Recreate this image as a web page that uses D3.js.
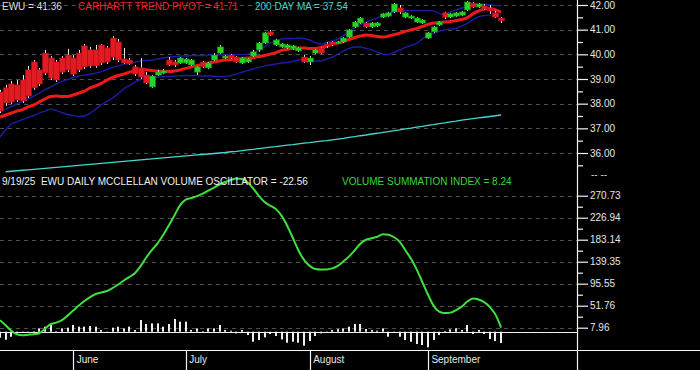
<!DOCTYPE html>
<html>
<head>
<meta charset="utf-8">
<script src="https://cdn.jsdelivr.net/npm/d3@7"></script>
<style>
  html, body { margin: 0; padding: 0; background: #000; }
  svg { display: block; }
  text { font-family: "Liberation Sans", Arial, sans-serif; white-space: pre; }
</style>
</head>
<body>
<svg id="chart" width="700" height="370"></svg>
<script>
// ---------------- DATA ----------------
const dates = [
  "2025-05-13","2025-05-14","2025-05-15","2025-05-16","2025-05-19","2025-05-20","2025-05-21","2025-05-22","2025-05-23","2025-05-27","2025-05-28","2025-05-29","2025-05-30",
  "2025-06-02","2025-06-03","2025-06-04","2025-06-05","2025-06-06","2025-06-09","2025-06-10","2025-06-11","2025-06-12","2025-06-13","2025-06-16","2025-06-17","2025-06-18","2025-06-20","2025-06-23","2025-06-24","2025-06-25","2025-06-26","2025-06-27","2025-06-30",
  "2025-07-01","2025-07-02","2025-07-03","2025-07-07","2025-07-08","2025-07-09","2025-07-10","2025-07-11","2025-07-14","2025-07-15","2025-07-16","2025-07-17","2025-07-18","2025-07-21","2025-07-22","2025-07-23","2025-07-24","2025-07-25","2025-07-28","2025-07-29","2025-07-30","2025-07-31",
  "2025-08-01","2025-08-04","2025-08-05","2025-08-06","2025-08-07","2025-08-08","2025-08-11","2025-08-12","2025-08-13","2025-08-14","2025-08-15","2025-08-18","2025-08-19","2025-08-20","2025-08-21","2025-08-22","2025-08-25","2025-08-26","2025-08-27","2025-08-28","2025-08-29",
  "2025-09-02","2025-09-03","2025-09-04","2025-09-05","2025-09-08","2025-09-09","2025-09-10","2025-09-11","2025-09-12","2025-09-15","2025-09-16","2025-09-17","2025-09-18","2025-09-19"
];

const open = [38.47,38.64,38.80,38.76,38.96,39.37,39.69,39.37,40.05,39.85,39.69,39.85,39.97,39.85,40.05,40.34,40.18,40.18,40.38,40.26,40.66,40.50,39.81,39.77,39.49,39.45,39.16,38.68,39.16,39.24,
  39.77,39.69,39.65,39.65,39.57,39.28,39.69,39.45,39.77,40.05,39.85,39.97,39.89,39.65,39.69,39.93,40.18,40.46,40.91,40.38,40.30,40.26,40.22,40.14,39.89,39.69,40.05,40.26,40.42,40.50,
  40.46,40.50,40.70,41.11,41.27,41.27,41.11,41.15,41.51,41.55,41.72,41.88,41.51,41.47,41.31,41.27,40.66,40.91,41.19,41.68,41.51,41.55,41.59,41.80,42.08,41.92,41.96,41.88,41.68,41.47];
const high = [38.56,38.76,38.92,38.96,39.16,39.53,39.77,39.45,40.18,39.93,39.77,39.93,40.22,39.97,40.18,40.42,40.30,40.38,40.42,40.34,40.74,40.62,40.26,39.85,39.57,39.85,39.28,39.16,39.37,39.41,
  39.89,39.77,39.89,39.85,39.81,39.53,39.73,39.69,40.05,40.38,39.97,40.01,39.93,39.89,39.85,40.18,40.50,40.91,40.99,40.62,40.46,40.42,40.38,40.30,39.97,39.93,40.22,40.30,40.50,40.54,
  40.54,40.70,41.03,41.35,41.51,41.31,41.31,41.31,41.68,41.72,42.08,42.00,41.72,41.59,41.51,41.43,40.91,41.15,41.35,41.72,41.68,41.72,41.76,42.16,42.12,42.08,42.04,42.00,41.76,41.51];
const low = [37.62,37.91,37.99,38.07,38.03,38.23,38.56,38.72,39.16,38.96,38.88,39.20,39.28,39.12,39.28,39.41,39.45,39.45,39.57,39.61,39.77,39.69,39.61,39.57,39.12,39.00,38.80,38.64,39.12,39.20,
  39.53,39.49,39.61,39.61,39.53,39.16,39.45,39.41,39.73,40.01,39.81,39.81,39.65,39.61,39.65,39.89,40.10,40.42,40.74,40.34,40.26,40.22,40.18,40.10,39.65,39.57,40.01,40.01,40.26,40.34,
  40.42,40.46,40.66,41.07,41.23,41.07,41.07,41.11,41.47,41.51,41.68,41.64,41.47,41.43,41.27,41.23,40.62,40.87,41.15,41.43,41.47,41.51,41.55,41.76,41.88,41.88,41.80,41.64,41.47,41.27];
const close = [37.70,38.03,38.07,38.15,38.11,38.31,38.64,38.80,39.24,39.04,38.96,39.28,39.37,39.20,39.37,39.49,39.53,39.53,39.65,39.69,39.89,39.77,39.65,39.61,39.20,39.08,38.84,39.12,39.28,39.33,
  39.57,39.57,39.85,39.81,39.77,39.49,39.49,39.65,39.97,40.30,39.93,39.85,39.69,39.85,39.81,40.10,40.46,40.87,40.78,40.58,40.42,40.38,40.34,40.26,39.69,39.85,40.18,40.05,40.34,40.38,
  40.50,40.66,40.99,41.31,41.47,41.11,41.27,41.27,41.64,41.68,42.04,41.72,41.68,41.55,41.47,41.39,40.87,41.11,41.31,41.51,41.64,41.68,41.72,42.12,41.92,42.04,41.84,41.76,41.51,41.36];

const trendPivot = [37.46,37.54,37.62,37.70,37.76,37.87,37.95,38.07,38.19,38.29,38.31,38.29,38.29,38.35,38.43,38.51,38.64,38.72,38.82,38.96,39.06,39.14,39.20,39.28,39.34,39.37,39.37,39.34,39.32,39.30,
  39.30,39.32,39.37,39.43,39.49,39.55,39.59,39.65,39.69,39.73,39.77,39.79,39.81,39.83,39.85,39.87,39.91,39.95,40.01,40.07,40.16,40.20,40.24,40.26,40.26,40.24,40.24,40.28,40.34,40.40,
  40.46,40.52,40.60,40.68,40.74,40.78,40.76,40.72,40.70,40.74,40.80,40.86,40.93,40.99,41.05,41.13,41.21,41.27,41.29,41.31,41.33,41.37,41.41,41.49,41.64,41.76,41.84,41.86,41.80,41.71];
const upperBand = [37.70,37.78,37.89,37.99,38.09,38.19,38.31,38.43,38.57,38.68,38.80,38.90,38.98,39.06,39.12,39.16,39.20,39.24,39.30,39.39,39.47,39.53,39.59,39.65,39.69,39.73,39.75,39.77,39.81,39.85,
  39.89,39.91,39.93,39.93,39.95,39.95,39.95,39.97,39.97,39.97,39.97,39.99,39.99,39.99,40.01,40.05,40.16,40.30,40.46,40.56,40.62,40.64,40.64,40.65,40.64,40.58,40.48,40.42,40.48,40.54,
  40.62,40.76,40.95,41.07,41.19,41.31,41.39,41.47,41.57,41.66,41.72,41.76,41.77,41.77,41.77,41.77,41.77,41.76,41.66,41.61,41.72,41.80,41.88,41.94,42.00,42.04,42.02,42.00,41.98,41.96];
const lowerBand = [36.65,36.93,37.18,37.26,37.36,37.44,37.52,37.62,37.70,37.78,37.72,37.64,37.56,37.52,37.48,37.50,37.62,37.78,37.95,38.09,38.23,38.41,38.60,38.74,38.88,38.98,39.02,39.06,39.08,39.09,
  39.10,39.12,39.13,39.14,39.14,39.14,39.12,39.12,39.11,39.10,39.10,39.14,39.20,39.28,39.34,39.41,39.47,39.53,39.57,39.61,39.65,39.67,39.71,39.77,39.81,39.77,39.73,39.73,39.81,39.89,
  40.01,40.14,40.24,40.30,40.30,40.24,40.18,40.09,40.01,39.99,40.09,40.18,40.28,40.36,40.44,40.62,40.78,40.84,40.93,40.99,41.03,41.05,41.15,41.25,41.41,41.53,41.57,41.59,41.59,41.59];
const ma200 = [null,35.24,35.26,35.28,35.30,35.32,35.34,35.36,35.38,35.40,35.42,35.44,35.46,35.48,35.50,35.52,35.54,35.56,35.58,35.60,35.62,35.64,35.66,35.68,35.70,35.72,35.74,35.76,35.78,35.80,
  35.82,35.84,35.86,35.88,35.90,35.92,35.94,35.96,35.98,36.00,36.02,36.05,36.07,36.10,36.13,36.15,36.18,36.21,36.24,36.26,36.29,36.32,36.34,36.37,36.40,36.42,36.45,36.48,36.50,36.53,
  36.56,36.59,36.63,36.66,36.70,36.73,36.77,36.80,36.84,36.87,36.91,36.94,36.98,37.01,37.05,37.08,37.12,37.15,37.19,37.22,37.26,37.29,37.33,37.36,37.39,37.42,37.45,37.48,37.51,37.54];

const summationIndex = [23,13,2,-5,-7,-6,-5,-3,6,15,18,23,32,42,52,61,69,75,78,81,87,94,102,109,117,131,148,163,176,193,
  212,232,252,263,266,270,275,281,287,293,298,302,305,304,297,285,270,258,251,244,231,211,187,162,143,131,125,124,124,126,
  131,140,150,162,175,183,186,189,194,193,188,179,162,145,124,99,74,52,40,37,38,43,50,60,66,64,59,49,34,8.24];
const volumeOsc = [-12,-16,-10,-3,-1,0.5,1,6.6,10,13.3,1,6.6,8,13.3,10,10,11.3,10,3.4,0.5,8,10,6.6,10,3.4,23.3,15.3,16.6,16.6,10,
  15.3,25.3,19.9,19.9,3.4,6.6,1,6.6,6.6,13.3,3.4,2,-3.3,3.4,-6.6,-19.9,-16.6,-11.3,-4.6,-8.6,-15.3,-21.9,-19.9,-21.9,-27.9,-18.6,-8.6,-3.3,0.5,3.4,
  5,6.6,10,15.3,15.3,5.3,3.4,2,6.6,-10,0.5,-10,-16.6,-20,-24.6,-26.5,-31,-16.6,-6.6,1.3,4.6,6.6,3.4,13.3,-4.6,3.4,-4.6,-14.6,-18.6,-22.56];

const priceTicks = [42, 41, 40, 39, 38, 37, 36];
const priceMinorTicks = [41.5, 40.5, 39.5, 38.5, 37.5, 36.5, 35.5];
const oscTicks = [270.73, 226.94, 183.14, 139.35, 95.55, 51.76, 7.96];
const monthTicks = [["2025-06-02", "June"], ["2025-07-01", "July"], ["2025-08-01", "August"], ["2025-09-02", "September"]];

// ---------------- CHART ----------------
const svg = d3.select("#chart");
const W = 700, H = 370, axisX = 577;

const x = d3.scalePoint().domain(dates).range([0, 501.1]);
const yP = d3.scaleLinear().domain([36, 42]).range([153, 5]);
const yO = d3.scaleLinear().domain([7.96, 270.73]).range([327.7, 195.7]);
const f2 = v => d3.format(".2f")(v).replace("\u2212", "-");

svg.append("rect").attr("width", W).attr("height", H).attr("fill", "#000");

// grid lines
const grid = svg.append("g").attr("stroke", "#4e4e4e").attr("stroke-dasharray", "4,4").attr("stroke-width", 1);
grid.selectAll("line.p").data(priceTicks).join("line")
  .attr("x1", 0).attr("x2", axisX).attr("y1", d => Math.round(yP(d)) + 0.5).attr("y2", d => Math.round(yP(d)) + 0.5);
grid.selectAll("line.o").data(oscTicks).join("line")
  .attr("x1", 0).attr("x2", axisX).attr("y1", d => Math.round(yO(d)) + 0.5).attr("y2", d => Math.round(yO(d)) + 0.5);

// price lines
const idx = d3.range(dates.length);
const lineOf = (arr, yS) => d3.line().defined(i => arr[i] != null).x(i => x(dates[i])).y(i => yS(arr[i]));

svg.append("path").attr("d", lineOf(ma200, yP)(idx)).attr("fill", "none").attr("stroke", "#46d6cf").attr("stroke-width", 1.3);
svg.append("path").attr("d", lineOf(upperBand, yP).curve(d3.curveMonotoneX)(idx)).attr("fill", "none").attr("stroke", "#1c1ca8").attr("stroke-width", 1.4);
svg.append("path").attr("d", lineOf(lowerBand, yP).curve(d3.curveMonotoneX)(idx)).attr("fill", "none").attr("stroke", "#1c1ca8").attr("stroke-width", 1.4);
svg.append("path").attr("d", lineOf(trendPivot, yP).curve(d3.curveMonotoneX)(idx)).attr("fill", "none").attr("stroke", "#f01818").attr("stroke-width", 3);

// candles
const cw = 6;
const candles = svg.append("g");
candles.selectAll("line").data(idx).join("line")
  .attr("x1", i => Math.round(x(dates[i])) + 0.5).attr("x2", i => Math.round(x(dates[i])) + 0.5)
  .attr("y1", i => yP(high[i])).attr("y2", i => yP(low[i]))
  .attr("stroke", "#e6e6e6").attr("stroke-width", 1);
candles.selectAll("rect").data(idx).join("rect")
  .attr("x", i => Math.round(x(dates[i])) - cw / 2 + 0.5)
  .attr("width", cw)
  .attr("y", i => yP(Math.max(open[i], close[i])))
  .attr("height", i => Math.max(1.5, Math.abs(yP(open[i]) - yP(close[i]))))
  .attr("fill", i => close[i] >= open[i] ? "#28d428" : "#e21a22")
  .attr("stroke", i => close[i] >= open[i] ? "#138c13" : "#a8121a")
  .attr("stroke-width", 0.6);

// oscillator histogram
svg.append("g").selectAll("rect").data(idx).join("rect")
  .attr("x", i => Math.round(x(dates[i])) - 1)
  .attr("width", 2)
  .attr("y", i => Math.min(yO(0), yO(volumeOsc[i])))
  .attr("height", i => Math.abs(yO(volumeOsc[i]) - yO(0)))
  .attr("fill", "#f0f0f0");

// zero line
svg.append("line").attr("x1", 0).attr("x2", axisX).attr("y1", Math.round(yO(0)) + 0.5).attr("y2", Math.round(yO(0)) + 0.5)
  .attr("stroke", "#f0f0f0").attr("stroke-width", 1);

// summation index line
svg.append("path").attr("d", lineOf(summationIndex, yO).curve(d3.curveMonotoneX)(idx))
  .attr("fill", "none").attr("stroke", "#3ee03e").attr("stroke-width", 2);

// right axis
svg.append("line").attr("x1", axisX + 0.5).attr("x2", axisX + 0.5).attr("y1", 0).attr("y2", H).attr("stroke", "#f4f4f4").attr("stroke-width", 1.2);

const axP = d3.axisRight(yP).tickValues(priceTicks).tickSize(11).tickPadding(2).tickFormat(f2);
const gP = svg.append("g").attr("transform", `translate(${axisX},0)`).call(axP);
const axPm = d3.axisRight(yP).tickValues(priceMinorTicks).tickSize(6).tickFormat("");
const gPm = svg.append("g").attr("transform", `translate(${axisX},0)`).call(axPm);

const axO = d3.axisRight(yO).tickValues(oscTicks).tickSize(11).tickPadding(2).tickFormat(f2);
const gO = svg.append("g").attr("transform", `translate(${axisX},0)`).call(axO);
const oscMinor = oscTicks.slice(0, -1).map((d, k) => (d + oscTicks[k + 1]) / 2);
const axOm = d3.axisRight(yO).tickValues(oscMinor).tickSize(6).tickFormat("");
const gOm = svg.append("g").attr("transform", `translate(${axisX},0)`).call(axOm);

[gP, gPm, gO, gOm].forEach(g => {
  g.select(".domain").remove();
  g.selectAll("line").attr("stroke", "#f4f4f4").attr("stroke-width", 1.2);
  g.selectAll("text").attr("fill", "#e6e6e6").attr("font-size", 10).attr("font-family", "Liberation Sans, Arial, sans-serif");
});
svg.append("text").attr("x", 591).attr("y", 178).attr("fill", "#d0d0d0").attr("font-size", 10).text("-- --");

// bottom time axis
svg.append("line").attr("x1", 0).attr("x2", W).attr("y1", 350.5).attr("y2", 350.5).attr("stroke", "#f4f4f4").attr("stroke-width", 1.2);
const gM = svg.append("g");
gM.selectAll("line").data(monthTicks).join("line")
  .attr("x1", d => Math.round(x(d[0])) + 0.5).attr("x2", d => Math.round(x(d[0])) + 0.5)
  .attr("y1", 350).attr("y2", H).attr("stroke", "#f4f4f4").attr("stroke-width", 1.2);
gM.selectAll("text").data(monthTicks).join("text")
  .attr("x", d => x(d[0]) + 3.5).attr("y", 363)
  .attr("fill", "#e6e6e6").attr("font-size", 10).text(d => d[1]);

// titles
const last = dates.length - 1;
const t1 = svg.append("text").attr("y", 10).attr("font-size", 10);
t1.append("tspan").attr("x", 2).attr("fill", "#dedede").text(`EWU = ${f2(close[last])}`);
t1.append("tspan").attr("x", 78).attr("fill", "#e8262a").text(`CARHARTT TREND PIVOT = ${f2(trendPivot[last])}`);
t1.append("tspan").attr("x", 255).attr("fill", "#45d4cc").text(`200 DAY MA = ${f2(ma200[last])}`);

const [yy, mm, dd] = dates[last].split("-");
const t2 = svg.append("text").attr("y", 185).attr("font-size", 10);
t2.append("tspan").attr("x", 2).attr("fill", "#f0f0f0")
  .text(`${+mm}/${+dd}/${yy.slice(2)}  EWU DAILY MCCLELLAN VOLUME OSCILLATOR = ${f2(volumeOsc[last])}`);
t2.append("tspan").attr("x", 342).attr("fill", "#38d838").text(`VOLUME SUMMATION INDEX = ${f2(summationIndex[last])}`);
</script>
</body>
</html>
